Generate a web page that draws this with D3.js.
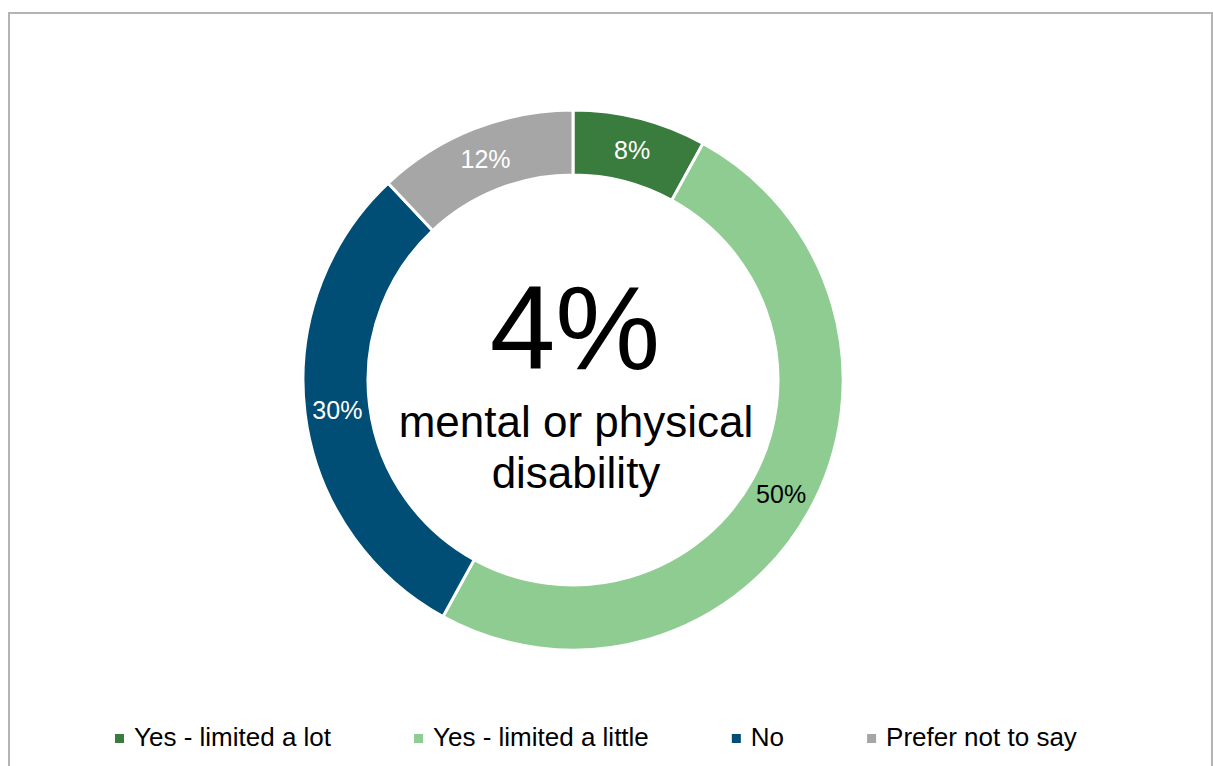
<!DOCTYPE html>
<html>
<head>
<meta charset="utf-8">
<script src="https://cdn.jsdelivr.net/npm/d3@7"></script>
<style>
html,body{margin:0;padding:0;background:#fff;}
svg{display:block;font-family:"Liberation Sans",Arial,sans-serif;}
</style>
</head>
<body>
<svg id="chart" width="1213" height="766"></svg>
<script>
const categories = ["Yes - limited a lot", "Yes - limited a little", "No", "Prefer not to say"];
const values = [8, 50, 30, 12];
const labelColors = ["#ffffff", "#000000", "#ffffff", "#ffffff"];
const colors = ["#3a7c3d", "#8ecc91", "#004d75", "#a6a6a6"];
const centerValue = "4%";
const centerLines = ["mental or physical", "disability"];

const svg = d3.select("#chart");

// frame
svg.append("rect").attr("x", 9).attr("y", 13).attr("width", 1203).attr("height", 790)
  .attr("fill", "none").attr("stroke", "#b4b4b4").attr("stroke-width", 2);

const cx = 573, cy = 380, rOuter = 270, rInner = 205;
const g = svg.append("g").attr("transform", `translate(${cx},${cy})`);

const pie = d3.pie().sort(null).value(d => d);
const arcs = pie(values);
const arc = d3.arc().innerRadius(rInner).outerRadius(rOuter);

g.selectAll("path.slice").data(arcs).join("path")
  .attr("class", "slice")
  .attr("d", arc)
  .attr("fill", (d, i) => colors[i])
  .attr("stroke", "#ffffff")
  .attr("stroke-width", 3);

const labelArc = d3.arc().innerRadius((rInner + rOuter) / 2).outerRadius((rInner + rOuter) / 2);
g.selectAll("text.lbl").data(arcs).join("text")
  .attr("class", "lbl")
  .attr("transform", d => `translate(${labelArc.centroid(d)})`)
  .attr("text-anchor", "middle")
  .attr("dy", "0.35em")
  .attr("font-size", 25)
  .attr("fill", (d, i) => labelColors[i])
  .text(d => d.data + "%");

// center text
g.append("text").attr("x", 2).attr("y", -11).attr("text-anchor", "middle")
  .attr("font-size", 118).attr("fill", "#000").text(centerValue);
centerLines.forEach((t, i) => {
  g.append("text").attr("x", 3).attr("y", 57 + i * 51).attr("text-anchor", "middle")
    .attr("font-size", 44).attr("fill", "#000").text(t);
});

// legend
const legend = svg.append("g").attr("class", "legend");
let lx = 115;
categories.forEach((c, i) => {
  const item = legend.append("g");
  item.append("rect").attr("x", lx).attr("y", 734).attr("width", 9).attr("height", 9)
    .attr("fill", colors[i]);
  const t = item.append("text").attr("x", lx + 19).attr("y", 746)
    .attr("font-size", 26).attr("fill", "#000").text(c);
  const w = t.node().getComputedTextLength();
  lx = lx + 19 + w + 83;
});
</script>
</body>
</html>
